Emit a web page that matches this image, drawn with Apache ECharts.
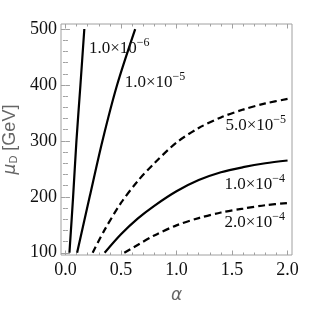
<!DOCTYPE html>
<html>
<head>
<meta charset="utf-8">
<script src="https://cdn.jsdelivr.net/npm/echarts@6/dist/echarts.min.js"></script>
<style>
  html, body { margin: 0; padding: 0; background: #fff; }
  #chart { width: 319px; height: 309px; }
</style>
</head>
<body>
<div id="chart"></div>
<script>
// ---- data ----
const xTicks = [0, 0.5, 1.0, 1.5, 2.0];
const xMinorTicks = [0.1, 0.2, 0.3, 0.4, 0.6, 0.7, 0.8, 0.9, 1.1, 1.2, 1.3, 1.4, 1.6, 1.7, 1.8, 1.9];
const yTicks = [100, 200, 300, 400, 500];
const yMinorTicks = [120, 140, 160, 180, 220, 240, 260, 280, 320, 340, 360, 380, 420, 440, 460, 480];

// contour 1.0e-6 (solid)
const alpha1 = [0.036, 0.069, 0.099, 0.135, 0.170];
const mu1    = [100, 200, 300, 400, 500];
// contour 1.0e-5 (solid)
const alpha2 = [0.105, 0.218, 0.333, 0.465, 0.628];
const mu2    = [100, 200, 300, 400, 500];
// contour 5.0e-5 (dashed)
const alpha3 = [0.245, 0.35, 0.50, 0.65, 0.80, 1.00, 1.20, 1.40, 1.60, 1.80, 2.00];
const mu3    = [100, 140, 189, 228, 260, 297, 323, 342, 356, 367, 375];
// contour 1.0e-4 (solid)
const alpha4 = [0.353, 0.50, 0.65, 0.80, 1.00, 1.20, 1.40, 1.60, 1.80, 2.00];
const mu4    = [100, 133, 161, 184, 210, 230, 244, 253, 260, 265];
// contour 2.0e-4 (dashed)
const alpha5 = [0.53, 0.65, 0.80, 1.00, 1.20, 1.40, 1.60, 1.80, 2.00];
const mu5    = [100, 114, 131, 149, 162, 172, 179, 185, 189];

const levelMantissa = ['1.0', '1.0', '5.0', '1.0', '2.0'];
const levelExponent = ['\u22126', '\u22125', '\u22125', '\u22124', '\u22124'];

// ---- chart ----
const serif = "'Liberation Serif', 'Times New Roman', serif";
const sans = "'Liberation Sans', Arial, sans-serif";
const frameColor = '#a0a0a0';
const labelPos = [[0.484, 468], [0.807, 407], [1.713, 330], [1.704, 225], [1.704, 157]];

function mkSeries(alphas, mus, dashed, idx) {
  return {
    type: 'line',
    data: alphas.map((a, i) => [a, mus[i]]),
    smooth: 0.3,
    showSymbol: false,
    symbol: 'none',
    clip: true,
    lineStyle: { color: '#000', width: 2.2, type: dashed ? [7, 4] : 'solid' },
    silent: true,
    animation: false,
    markPoint: {
      symbol: 'circle',
      symbolSize: 0,
      silent: true,
      animation: false,
      data: [{ coord: labelPos[idx] }],
      label: {
        show: true,
        position: 'inside',
        formatter: '{m|' + levelMantissa[idx] + '×10}{e|' + levelExponent[idx] + '}',
        rich: {
          m: { fontFamily: serif, fontSize: 17, color: '#111', lineHeight: 20, verticalAlign: 'bottom' },
          e: { fontFamily: serif, fontSize: 12, color: '#111', lineHeight: 20, verticalAlign: 'top' }
        }
      }
    }
  };
}

function xAxisDef(position, values, len, labels) {
  return {
    type: 'value', position: position, min: -0.04, max: 2.04,
    axisLine: { show: false }, splitLine: { show: false },
    axisTick: { show: true, inside: true, length: len, customValues: values, lineStyle: { color: frameColor, width: 1 } },
    axisLabel: labels ? {
      show: true, customValues: values, margin: 6,
      formatter: v => v.toFixed(1),
      fontFamily: serif, fontSize: 18, color: '#111'
    } : { show: false },
    name: labels ? 'α' : '',
    nameLocation: 'middle', nameGap: 32,
    nameTextStyle: { fontFamily: "'DejaVu Sans', sans-serif", fontStyle: 'italic', fontSize: 17, color: '#666' }
  };
}
function yAxisDef(position, values, len, labels) {
  return {
    type: 'value', position: position, min: 96, max: 509,
    axisLine: { show: false }, splitLine: { show: false },
    axisTick: { show: true, inside: true, length: len, customValues: values, lineStyle: { color: frameColor, width: 1 } },
    axisLabel: labels ? {
      show: true, customValues: values, margin: 4,
      fontFamily: serif, fontSize: 18, color: '#111'
    } : { show: false },
    name: labels ? '{mu|μ}{d|D}{g| [GeV]}' : '',
    nameLocation: 'middle', nameGap: 38, nameRotate: 90,
    nameTextStyle: {
      rich: {
        mu: { fontFamily: "'DejaVu Sans', sans-serif", fontStyle: 'italic', fontSize: 17, color: '#666', lineHeight: 22, verticalAlign: 'bottom' },
        d: { fontFamily: sans, fontSize: 11, color: '#666', lineHeight: 22, verticalAlign: 'bottom' },
        g: { fontFamily: sans, fontSize: 18, color: '#666', lineHeight: 22, verticalAlign: 'bottom' }
      }
    }
  };
}

const chart = echarts.init(document.getElementById('chart'), null, { renderer: 'canvas' });
chart.setOption({
  animation: false,
  backgroundColor: '#fff',
  grid: { left: 61, right: 27, top: 24, bottom: 54, show: true, borderColor: frameColor, borderWidth: 1, containLabel: false, outerBoundsMode: 'none' },
  xAxis: [
    xAxisDef('bottom', xTicks, 4.5, true),
    xAxisDef('bottom', xMinorTicks, 2.5, false),
    xAxisDef('top', xTicks, 4.5, false),
    xAxisDef('top', xMinorTicks, 2.5, false)
  ],
  yAxis: [
    yAxisDef('left', yTicks, 4.5, true),
    yAxisDef('left', yMinorTicks, 2.5, false),
    yAxisDef('right', yTicks, 4.5, false),
    yAxisDef('right', yMinorTicks, 2.5, false)
  ],
  series: [
    mkSeries(alpha1, mu1, false, 0),
    mkSeries(alpha2, mu2, false, 1),
    mkSeries(alpha3, mu3, true, 2),
    mkSeries(alpha4, mu4, false, 3),
    mkSeries(alpha5, mu5, true, 4)
  ]
});
</script>
</body>
</html>
